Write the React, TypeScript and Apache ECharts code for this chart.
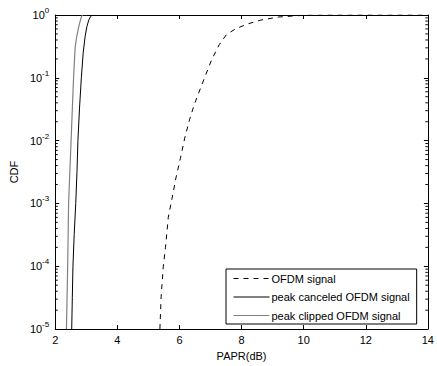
import React, { useEffect, useRef } from "react";
import * as echarts from "echarts";

const xTicks = [2, 4, 6, 8, 10, 12, 14];
const seriesNames = ["OFDM signal", "peak canceled OFDM signal", "peak clipped OFDM signal"];

const ofdmX = [5.37, 5.41, 5.48, 5.55, 5.64, 5.76, 5.89, 6.03, 6.17, 6.33, 6.48, 6.79, 7.04, 7.28, 7.51, 7.8, 8.19, 8.62, 9.2, 10.0, 11.0, 14.0];
const ofdmY = [1e-5, 3.3e-5, 1e-4, 2.0e-4, 6.0e-4, 1.2e-3, 2.6e-3, 5.2e-3, 0.011, 0.022, 0.038, 0.095, 0.196, 0.337, 0.485, 0.6, 0.72, 0.83, 0.93, 0.99, 1, 1];

const canceledX = [2.53, 2.55, 2.57, 2.61, 2.66, 2.7, 2.73, 2.78, 2.84, 2.9, 2.96, 3.02, 3.08, 3.14, 3.2];
const canceledY = [1e-5, 3.2e-5, 1e-4, 3.2e-4, 1e-3, 3.2e-3, 0.01, 0.032, 0.1, 0.25, 0.45, 0.66, 0.83, 0.95, 1];

const clippedX = [2.36, 2.38, 2.4, 2.43, 2.47, 2.51, 2.55, 2.59, 2.64, 2.69, 2.75, 2.8, 2.84, 2.88];
const clippedY = [1e-5, 3.2e-5, 1e-4, 1e-3, 3.2e-3, 0.01, 0.032, 0.1, 0.3, 0.45, 0.63, 0.79, 0.93, 1];

const decades = [-5, -4, -3, -2, -1];
const minorMultipliers = [2, 3, 4, 5, 6, 7, 8, 9];

const FONT = "'Liberation Sans', Arial, Helvetica, sans-serif";

function zip(xs: number[], ys: number[]) {
  return xs.map((x, i) => [x, ys[i]]);
}

export default function App() {
  const ref = useRef<HTMLDivElement>(null);
  useEffect(() => {
    document.body.style.margin = "0";
    if (!ref.current) return;
    const chart = echarts.init(ref.current, undefined, { renderer: "svg" });
    const minorData: number[][] = [];
    decades.forEach((n) => minorMultipliers.forEach((k) => minorData.push([2, k * Math.pow(10, n)])));

    const xCommon = {
      type: "value" as const,
      min: xTicks[0],
      max: xTicks[xTicks.length - 1],
      interval: 2,
      splitLine: { show: false },
      axisLine: { show: true, onZero: false, lineStyle: { color: "#000", width: 1 } },
      axisTick: { show: true, inside: true, length: 4, lineStyle: { color: "#000" } },
    };
    const yCommon = {
      type: "log" as const,
      logBase: 10,
      min: 1e-5,
      max: 1,
      interval: 1,
      splitLine: { show: false },
      axisLine: { show: true, onZero: false, lineStyle: { color: "#000", width: 1 } },
      axisTick: { show: true, inside: true, length: 4, lineStyle: { color: "#000" } },
    };

    chart.setOption({
      animation: false,
      backgroundColor: "#fff",
      grid: { left: 53, right: 6, top: 15, bottom: 33, containLabel: false },
      legend: {
        orient: "vertical",
        left: 226,
        top: 269,
        data: seriesNames,
        itemWidth: 36,
        itemHeight: 11,
        itemGap: 7.5,
        itemStyle: { opacity: 0 },
        lineStyle: { width: 1 },
        padding: [4, 7, 3, 7],
        borderColor: "#000",
        borderWidth: 1,
        backgroundColor: "#fff",
        textStyle: { fontSize: 11, fontFamily: FONT, color: "#000", padding: [0, 0, 0, -3] },
      },
      xAxis: [
        {
          ...xCommon,
          position: "bottom",
          name: "PAPR(dB)",
          nameLocation: "middle",
          nameGap: 20,
          nameTextStyle: { fontSize: 11, fontFamily: FONT, color: "#000" },
          axisLabel: { margin: 5, fontSize: 11, fontFamily: FONT, color: "#000" },
        },
        { ...xCommon, position: "top", axisLabel: { show: false } },
      ],
      yAxis: [
        {
          ...yCommon,
          position: "left",
          name: "CDF",
          nameLocation: "middle",
          nameGap: 34,
          nameTextStyle: { fontSize: 11, fontFamily: FONT, color: "#000" },
          axisLabel: {
            margin: 6,
            formatter: (v: number) => `{b|10}{s|${Math.round(Math.log10(v))}}`,
            rich: {
              b: { fontSize: 11, fontFamily: FONT, color: "#000", lineHeight: 17, verticalAlign: "middle" },
              s: { fontSize: 8, fontFamily: FONT, color: "#000", lineHeight: 8, verticalAlign: "top" },
            },
          },
        },
        { ...yCommon, position: "right", axisLabel: { show: false } },
      ],
      series: [
        {
          name: seriesNames[0],
          type: "line",
          data: zip(ofdmX, ofdmY),
          symbol: "none",
          lineStyle: { color: "#000", width: 1, type: [5, 5] },
          itemStyle: { color: "#000" },
          z: 3,
        },
        {
          name: seriesNames[1],
          type: "line",
          data: zip(canceledX, canceledY),
          symbol: "none",
          lineStyle: { color: "#000", width: 1 },
          itemStyle: { color: "#000" },
          z: 3,
        },
        {
          name: seriesNames[2],
          type: "line",
          data: zip(clippedX, clippedY),
          symbol: "none",
          lineStyle: { color: "#808080", width: 1.2 },
          itemStyle: { color: "#808080" },
          z: 3,
        },
        {
          type: "custom",
          data: minorData,
          silent: true,
          z: 4,
          renderItem: (params: any, api: any) => {
            const v = api.value(1);
            const p1 = api.coord([2, v]);
            const p2 = api.coord([14, v]);
            return {
              type: "group",
              children: [
                { type: "line", shape: { x1: p1[0], y1: p1[1], x2: p1[0] + 2.5, y2: p1[1] }, style: { stroke: "#000", lineWidth: 1 } },
                { type: "line", shape: { x1: p2[0], y1: p2[1], x2: p2[0] - 2.5, y2: p2[1] }, style: { stroke: "#000", lineWidth: 1 } },
              ],
            };
          },
        },
      ],
    });
    return () => chart.dispose();
  }, []);
  return <div ref={ref} style={{ width: 437, height: 366 }} />;
}
